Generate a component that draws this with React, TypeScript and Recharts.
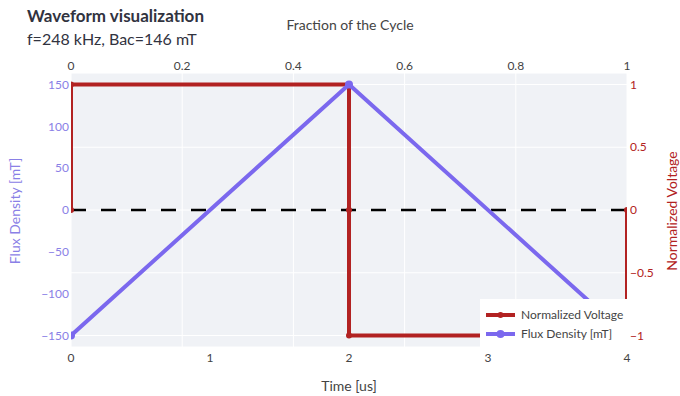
import React from "react";
import { ComposedChart, Line, XAxis, YAxis, CartesianGrid } from "recharts";

// ---- data ----
const voltageTime = [0, 0, 2, 2, 2, 4, 4];
const voltageValues = [0, 1, 1, 0, -1, -1, 0];
const fluxTime = [0, 2, 4];
const fluxValues = [-150, 150, -150];
const zeroFraction = [0, 1];
const zeroValues = [0, 0];
const timeTicks = [0, 1, 2, 3, 4];
const fractionTicks = [0, 0.2, 0.4, 0.6, 0.8, 1];
const fluxTicks = [-150, -100, -50, 0, 50, 100, 150];
const voltTicks = [-1, -0.5, 0, 0.5, 1];

const voltData = voltageTime.map((t, i) => ({ t, v: voltageValues[i] }));
const fluxData = fluxTime.map((t, i) => ({ t, b: fluxValues[i] }));
const zeroData = zeroFraction.map((f, i) => ({ f, z: zeroValues[i] }));

const FONT = "'Source Sans Pro', Lato, 'Noto Sans', sans-serif";
const RED = "#b22222";
const PURPLE = "#7b68ee";
const PURPLE_TXT = "#8a80e6";
const GRAY = "#444";

const fmt = (v: number) => (v < 0 ? "\u2212" + String(Math.abs(v)) : String(v));

const LegendItem = ({ color, label, r }: { color: string; label: string; r: number }) => (
  <div style={{ display: "flex", alignItems: "center", height: 19 }}>
    <svg width={40} height={12} style={{ display: "block" }}>
      <line x1={6} y1={6} x2={35} y2={6} stroke={color} strokeWidth={4} />
      <circle cx={20.5} cy={6} r={r} fill={color} />
    </svg>
    <span style={{ fontSize: 12, color: GRAY, fontFamily: FONT, marginLeft: 1 }}>{label}</span>
  </div>
);

export default function App() {
  return (
    <div style={{ position: "absolute", left: 0, top: 0, width: 680, height: 396, background: "#fff", fontFamily: FONT }}>
      <ComposedChart width={680} height={396} margin={{ top: 43, right: 8, bottom: 19, left: 8 }}>
        <CartesianGrid xAxisId="frac" yAxisId="volt" stroke="#ffffff" strokeWidth={1} fill="#f0f2f6" />
        <XAxis
          xAxisId="time"
          dataKey="t"
          type="number"
          domain={[0, 4]}
          ticks={timeTicks}
          allowDataOverflow
          orientation="bottom"
          height={30}
          axisLine={false}
          tickLine={false}
          tickSize={0}
          tickMargin={6}
          tick={{ fill: GRAY, fontSize: 12, fontFamily: FONT }}
        />
        <XAxis
          xAxisId="frac"
          dataKey="f"
          type="number"
          domain={[0, 1]}
          ticks={fractionTicks}
          allowDataOverflow
          orientation="top"
          height={30}
          axisLine={false}
          tickLine={false}
          tickSize={0}
          tickMargin={3}
          tick={{ fill: GRAY, fontSize: 12, fontFamily: FONT }}
        />
        <YAxis
          yAxisId="flux"
          type="number"
          domain={[-163.7, 163.7]}
          ticks={fluxTicks}
          allowDataOverflow
          orientation="left"
          width={63}
          axisLine={false}
          tickLine={false}
          tickSize={0}
          tickMargin={2}
          tickFormatter={fmt}
          tick={{ fill: PURPLE_TXT, fontSize: 12, fontFamily: FONT }}
        />
        <YAxis
          yAxisId="volt"
          type="number"
          domain={[-1.0913, 1.0913]}
          ticks={voltTicks}
          allowDataOverflow
          orientation="right"
          width={45}
          axisLine={false}
          tickLine={false}
          tickSize={0}
          tickMargin={3}
          tickFormatter={fmt}
          tick={{ fill: RED, fontSize: 12, fontFamily: FONT }}
        />
        <Line
          xAxisId="frac"
          yAxisId="volt"
          data={zeroData}
          dataKey="z"
          stroke="#000"
          strokeWidth={2.5}
          strokeDasharray="15 15"
          dot={false}
          activeDot={false}
          legendType="none"
          isAnimationActive={false}
        />
        <Line
          xAxisId="time"
          yAxisId="volt"
          data={voltData}
          dataKey="v"
          name="Normalized Voltage"
          type="linear"
          stroke={RED}
          strokeWidth={4}
          dot={{ r: 3, fill: RED, stroke: RED, strokeWidth: 0 }}
          activeDot={false}
          isAnimationActive={false}
        />
        <Line
          xAxisId="time"
          yAxisId="flux"
          data={fluxData}
          dataKey="b"
          name="Flux Density [mT]"
          type="linear"
          stroke={PURPLE}
          strokeWidth={4}
          dot={{ r: 4, fill: PURPLE, stroke: PURPLE, strokeWidth: 0 }}
          activeDot={false}
          isAnimationActive={false}
        />
      </ComposedChart>

      {/* titles */}
      <div style={{ position: "absolute", left: 27, top: 5, fontSize: 17, fontWeight: 700, color: "#31333f", lineHeight: "22px", whiteSpace: "nowrap" }}>
        Waveform visualization
      </div>
      <div style={{ position: "absolute", left: 27, top: 28, fontSize: 16, color: "#31333f", lineHeight: "22px", whiteSpace: "nowrap" }}>
        f=248 kHz, Bac=146 mT
      </div>
      <div style={{ position: "absolute", left: 250, width: 200, top: 16, textAlign: "center", fontSize: 14, color: GRAY, lineHeight: "18px" }}>
        Fraction of the Cycle
      </div>
      <div style={{ position: "absolute", left: 249, width: 200, top: 377, textAlign: "center", fontSize: 14, color: GRAY, lineHeight: "18px" }}>
        Time [us]
      </div>
      <div style={{ position: "absolute", left: 15 - 100, top: 211 - 7, width: 200, textAlign: "center", fontSize: 14, color: PURPLE_TXT, lineHeight: "14px", transform: "rotate(-90deg)" }}>
        Flux Density [mT]
      </div>
      <div style={{ position: "absolute", left: 672 - 100, top: 211 - 7, width: 200, textAlign: "center", fontSize: 14, color: RED, lineHeight: "14px", transform: "rotate(-90deg)" }}>
        Normalized Voltage
      </div>

      {/* legend */}
      <div style={{ position: "absolute", left: 480, top: 299, width: 148, height: 48, background: "#fff", paddingTop: 6, boxSizing: "border-box" }}>
        <LegendItem color={RED} label="Normalized Voltage" r={3} />
        <LegendItem color={PURPLE} label="Flux Density [mT]" r={4} />
      </div>
    </div>
  );
}
